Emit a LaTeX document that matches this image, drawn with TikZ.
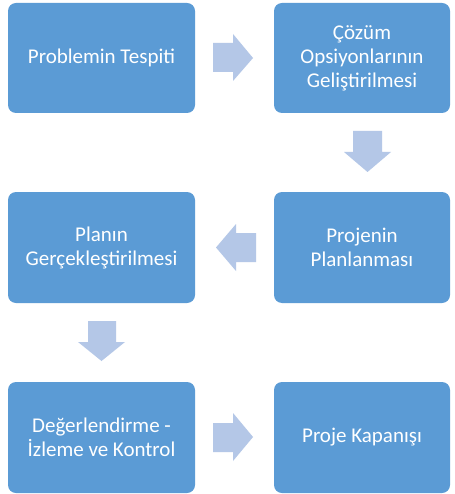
\documentclass[tikz,border=0pt]{standalone}
\usepackage{fontspec}
\setmainfont{Carlito}
\definecolor{boxblue}{HTML}{5B9BD5}
\definecolor{arrowblue}{HTML}{B4C7E7}
\begin{document}
\begin{tikzpicture}[x=1pt,y=-1pt,
  stepbox/.style={fill=boxblue,draw=none,rounded corners=8pt,text=white,align=center,
    font=\fontsize{21}{24}\selectfont,inner sep=0pt},
  blockarrow/.style={fill=arrowblue,draw=none}]
\useasboundingbox (0,0) rectangle (454,494);
\fill[white] (0,0) rectangle (454,494);
% boxes
\path[stepbox] (8,3) rectangle (195,113);
\node[stepbox] (p1) at (101.5,58) {Problemin Tespiti};
\path[stepbox] (274,3) rectangle (450,113);
\node[stepbox] (p2) at (362,58) {Çözüm\\Opsiyonlarının\\Geliştirilmesi};
\path[stepbox] (274,192) rectangle (450,303);
\node[stepbox] (p3) at (362,247.5) {Projenin\\Planlanması};
\path[stepbox] (8,192) rectangle (195,303);
\node[stepbox] (p4) at (101.5,247.5) {Planın\\Gerçekleştirilmesi};
\path[stepbox] (8,382) rectangle (195,493);
\node[stepbox] (p5) at (101.5,437.5) {Değerlendirme -\\İzleme ve Kontrol};
\path[stepbox] (274,382) rectangle (450,493);
\node[stepbox] (p6) at (362,437.5) {Proje Kapanışı};
% arrows
\fill[blockarrow] (213,43) -- (233,43) -- (233,34) -- (253,58) -- (233,81) -- (233,72) -- (213,72) -- cycle;
\fill[blockarrow] (353,131) -- (382,131) -- (382,152) -- (391,152) -- (367.5,172) -- (344,152) -- (353,152) -- cycle;
\fill[blockarrow] (256,233) -- (236,233) -- (236,224) -- (216,247.5) -- (236,271) -- (236,262) -- (256,262) -- cycle;
\fill[blockarrow] (88,321) -- (116,321) -- (116,342) -- (125,342) -- (101.5,361) -- (78,342) -- (88,342) -- cycle;
\fill[blockarrow] (213,423) -- (233,423) -- (233,413) -- (253,437) -- (233,461) -- (233,452) -- (213,452) -- cycle;
\end{tikzpicture}
\end{document}
